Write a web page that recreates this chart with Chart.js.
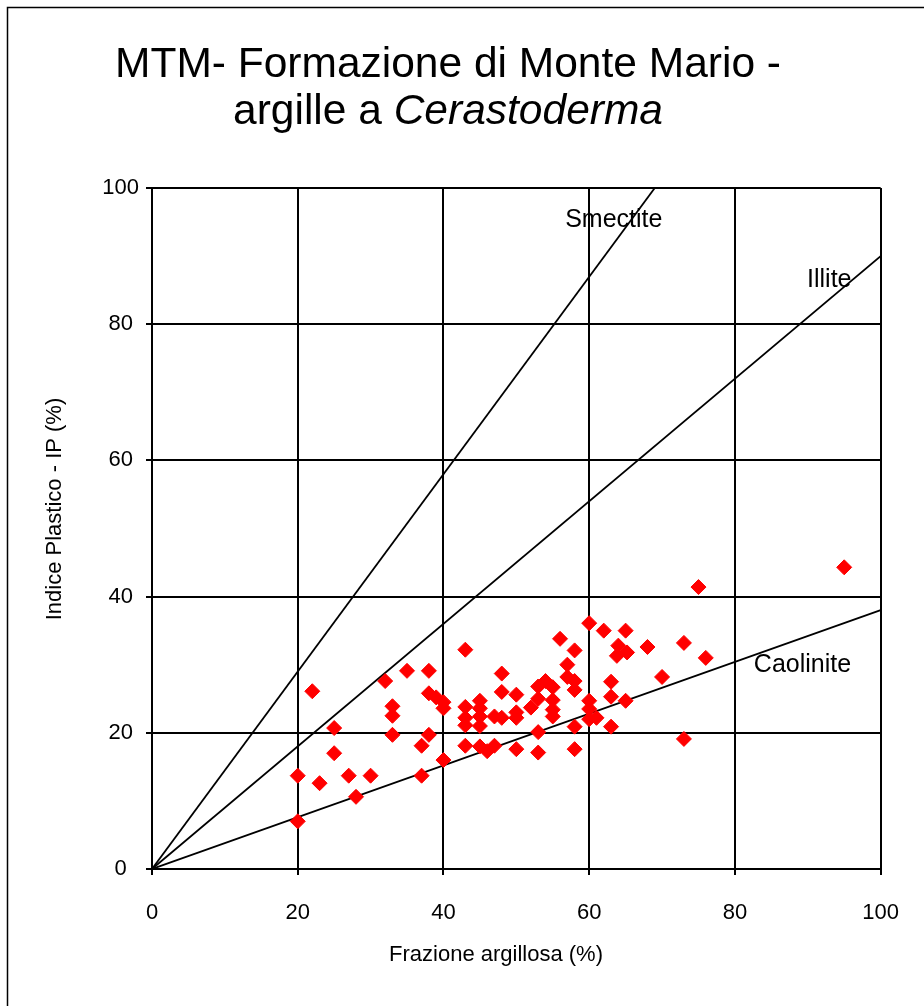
<!DOCTYPE html>
<html>
<head>
<meta charset="utf-8">
<script src="https://cdn.jsdelivr.net/npm/chart.js@4.4.0/dist/chart.umd.min.js"></script>
<style>
  html, body { margin: 0; padding: 0; background: #ffffff; }
  #wrap { position: relative; width: 924px; height: 1006px; }
</style>
</head>
<body>
<div id="wrap"><canvas id="chart" width="924" height="1006"></canvas></div>
<script>
// Clay fraction (%) and plasticity index (%) of the samples
const clayFraction = [
  20, 20, 22, 23, 25, 25, 27, 28, 30, 32,
  33, 33, 33, 35, 37, 37, 38, 38, 38, 39,
  40, 40, 40, 43, 43, 43, 43, 43, 45, 45,
  45, 45, 45, 46, 47, 47, 48, 48, 48, 50,
  50, 50, 50, 52, 53, 53, 53, 53, 54, 55,
  55, 55, 55, 56, 57, 57, 58, 58, 58, 58,
  58, 60, 60, 60, 60, 61, 62, 63, 63, 63,
  64, 65.2, 63.8, 65, 65, 68, 70, 73, 73, 75,
  76, 95
];
const plasticityIndex = [
  7.0, 13.7, 26.1, 12.6, 20.7, 17.0, 13.7, 10.6, 13.7, 27.6,
  23.9, 22.5, 19.7, 29.1, 18.1, 13.7, 29.1, 25.8, 19.7, 25.2,
  24.5, 23.6, 16.0, 32.2, 23.8, 22.2, 21.1, 18.1, 24.7, 23.6,
  22.4, 21.0, 18.0, 17.3, 22.4, 18.1, 28.7, 26.0, 22.2, 25.6,
  23.0, 22.2, 17.6, 23.7, 26.8, 25.0, 20.1, 17.1, 27.6, 26.7,
  24.8, 23.4, 22.4, 33.8, 30.0, 28.2, 27.6, 26.3, 32.1, 20.9,
  17.6, 36.1, 24.7, 23.5, 22.0, 22.2, 35.0, 27.5, 25.3, 20.9,
  32.8, 31.8, 31.3, 35.0, 24.7, 32.6, 28.2, 33.2, 19.1, 41.4,
  31.0, 44.3
];

// Reference lines for the clay minerals (end points)
const smectiteX = [0, 69];
const smectiteY = [0, 100];
const illiteX = [0, 100];
const illiteY = [0, 90];
const caoliniteX = [0, 100];
const caoliniteY = [0, 38];

// Line names and where they are written
const lineNames = ['Smectite', 'Illite', 'Caolinite'];
const lineNameX = [56.7, 89.9, 82.6];
const lineNameY = [95.3, 86.5, 29.9];

// Axis ticks
const xTicks = [0, 20, 40, 60, 80, 100];
const yTicks = [0, 20, 40, 60, 80, 100];

// Titles
const titleLine1 = 'MTM- Formazione di Monte Mario -';
const titleLine2a = 'argille a ';
const titleLine2b = 'Cerastoderma';
const xTitle = 'Frazione argillosa (%)';
const yTitle = 'Indice Plastico - IP (%)';

const FONT = '"Liberation Sans", Arial, Helvetica, sans-serif';
const TITLE_SIZE = 42.5;

function toPoints(xs, ys) {
  return xs.map((x, i) => ({ x: x, y: ys[i] }));
}

const decorations = {
  id: 'decorations',
  beforeDraw(chart) {
    const ctx = chart.ctx;
    ctx.save();
    ctx.fillStyle = '#ffffff';
    ctx.fillRect(0, 0, chart.width, chart.height);
    // outer frame
    ctx.strokeStyle = '#000000';
    ctx.lineWidth = 1.5;
    ctx.strokeRect(7.5, 7.5, 2000, 2000);
    ctx.restore();
  },
  afterDraw(chart) {
    const ctx = chart.ctx;
    const xs = chart.scales.x, ys = chart.scales.y;
    ctx.save();
    ctx.fillStyle = '#000000';

    // chart title (second line mixes upright and italic text)
    ctx.textBaseline = 'alphabetic';
    ctx.textAlign = 'center';
    ctx.font = TITLE_SIZE + 'px ' + FONT;
    ctx.fillText(titleLine1, 448, 77);
    ctx.textAlign = 'left';
    const wa = ctx.measureText(titleLine2a).width;
    ctx.font = 'italic ' + TITLE_SIZE + 'px ' + FONT;
    const wb = ctx.measureText(titleLine2b).width;
    const start = 448 - (wa + wb) / 2;
    ctx.font = TITLE_SIZE + 'px ' + FONT;
    ctx.fillText(titleLine2a, start, 124);
    ctx.font = 'italic ' + TITLE_SIZE + 'px ' + FONT;
    ctx.fillText(titleLine2b, start + wa, 124);

    // axis titles
    ctx.font = '22px ' + FONT;
    ctx.textAlign = 'center';
    ctx.textBaseline = 'middle';
    ctx.fillText(xTitle, 496, 955);
    ctx.save();
    ctx.translate(55, 509);
    ctx.rotate(-Math.PI / 2);
    ctx.fillText(yTitle, 0, 0);
    ctx.restore();

    // mineral line names
    ctx.textAlign = 'left';
    ctx.font = '25px ' + FONT;
    lineNames.forEach((name, i) => {
      ctx.fillText(name, xs.getPixelForValue(lineNameX[i]), ys.getPixelForValue(lineNameY[i]));
    });
    ctx.restore();
  }
};

const lineStyle = {
  type: 'line',
  borderColor: '#000000',
  borderWidth: 1.8,
  pointRadius: 0,
  pointHoverRadius: 0,
  fill: false,
  tension: 0
};

new Chart(document.getElementById('chart'), {
  type: 'scatter',
  data: {
    datasets: [
      {
        label: 'Campioni',
        data: toPoints(clayFraction, plasticityIndex),
        pointStyle: 'rectRot',
        pointRadius: 7.5,
        pointHoverRadius: 7.5,
        backgroundColor: '#ff0000',
        borderColor: '#ff0000',
        borderWidth: 1
      },
      Object.assign({ label: 'Smectite', data: toPoints(smectiteX, smectiteY) }, lineStyle),
      Object.assign({ label: 'Illite', data: toPoints(illiteX, illiteY) }, lineStyle),
      Object.assign({ label: 'Caolinite', data: toPoints(caoliniteX, caoliniteY) }, lineStyle)
    ]
  },
  options: {
    responsive: false,
    animation: false,
    devicePixelRatio: 1,
    layout: { padding: { left: 0, top: 188, right: 42, bottom: 0 } },
    plugins: {
      legend: { display: false },
      title: { display: false },
      tooltip: { enabled: false }
    },
    scales: {
      x: {
        type: 'linear',
        min: 0,
        max: 100,
        afterBuildTicks(scale) { scale.ticks = xTicks.map(v => ({ value: v })); },
        afterFit(scale) { scale.height = 137; },
        border: { display: true, color: '#000000', width: 2 },
        grid: { color: '#000000', lineWidth: 2, drawTicks: true, tickLength: 6 },
        ticks: { color: '#000000', font: { family: FONT, size: 22 }, padding: 25, maxRotation: 0 }
      },
      y: {
        type: 'linear',
        min: 0,
        max: 100,
        afterBuildTicks(scale) { scale.ticks = yTicks.map(v => ({ value: v })); },
        afterFit(scale) { scale.width = 152; },
        border: { display: true, color: '#000000', width: 2 },
        grid: { color: '#000000', lineWidth: 2, drawTicks: true, tickLength: 6 },
        ticks: { color: '#000000', font: { family: FONT, size: 22 }, padding: 7, crossAlign: 'center' }
      }
    }
  },
  plugins: [decorations]
});
</script>
</body>
</html>
